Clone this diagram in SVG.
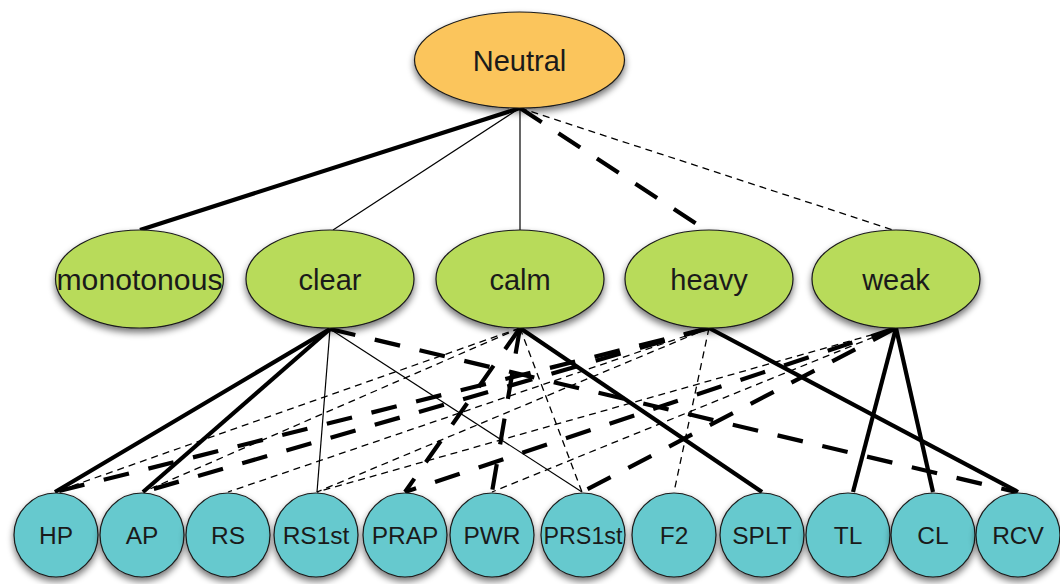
<svg xmlns="http://www.w3.org/2000/svg" width="1060" height="584" viewBox="0 0 1060 584">
  <defs>
    <filter id="sh" x="-20%" y="-20%" width="140%" height="150%">
      <feGaussianBlur in="SourceAlpha" stdDeviation="3.5"/>
      <feOffset dx="0" dy="4" result="b"/>
      <feComponentTransfer><feFuncA type="linear" slope="0.55"/></feComponentTransfer>
      <feMerge><feMergeNode/><feMergeNode in="SourceGraphic"/></feMerge>
    </filter>
  </defs>
  <style>
    .top{fill:#FBC55B;stroke:#1a1a1a;stroke-width:1.2}
    .mid{fill:#B8DB5A;stroke:#1a1a1a;stroke-width:1.2}
    .bot{fill:#66C9CE;stroke:#1a1a1a;stroke-width:1.2}
    text{font-family:"Liberation Sans",Arial,sans-serif;fill:#1a1a1a;text-anchor:middle}
    .tt{font-size:29px}
    .mt{font-size:29px}
    .bt{font-size:24.5px}
    line{stroke:#000;fill:none}
    .ts{stroke-width:4.2}
    .tn{stroke-width:1.2}
    .td{stroke-width:4.2;stroke-dasharray:26 20}
    .nd{stroke-width:1.3;stroke-dasharray:7 5}
  </style>
  <rect width="1060" height="584" fill="#fff"/>
  <g id="connectors">
    <line class="ts" x1="520" y1="108" x2="140" y2="230"/>
    <line class="tn" x1="520" y1="108" x2="333" y2="230"/>
    <line class="tn" x1="520" y1="108" x2="520" y2="230"/>
    <line class="td" x1="520" y1="108" x2="709" y2="232"/>
    <line class="nd" x1="520" y1="108" x2="893" y2="230"/>

    <line class="ts" x1="330" y1="329" x2="55" y2="492"/>
    <line class="ts" x1="330" y1="329" x2="143" y2="492"/>
    <line class="tn" x1="330" y1="329" x2="317" y2="492"/>
    <line class="tn" x1="330" y1="329" x2="582" y2="492"/>
    <line class="td" x1="330" y1="329" x2="1016" y2="492"/>

    <line class="nd" x1="520" y1="328" x2="55" y2="492"/>
    <line class="nd" x1="520" y1="328" x2="143" y2="492"/>
    <line class="td" x1="520" y1="328" x2="405" y2="492"/>
    <line class="td" x1="520" y1="328" x2="492" y2="492"/>
    <line class="nd" x1="520" y1="328" x2="582" y2="492"/>
    <line class="ts" x1="520" y1="328" x2="762" y2="492"/>

    <line class="td" x1="709" y1="328" x2="55" y2="492"/>
    <line class="td" x1="709" y1="328" x2="143" y2="492"/>
    <line class="nd" x1="709" y1="328" x2="228" y2="492"/>
    <line class="nd" x1="709" y1="328" x2="317" y2="492"/>
    <line class="nd" x1="709" y1="328" x2="674" y2="492"/>
    <line class="ts" x1="709" y1="328" x2="1018" y2="492"/>

    <line class="nd" x1="896" y1="328" x2="317" y2="492"/>
    <line class="td" x1="896" y1="328" x2="405" y2="492"/>
    <line class="nd" x1="896" y1="328" x2="492" y2="492"/>
    <line class="td" x1="896" y1="328" x2="582" y2="492"/>
    <line class="ts" x1="896" y1="328" x2="853" y2="492"/>
    <line class="ts" x1="896" y1="328" x2="933" y2="492"/>
  </g>

  <g id="n-neutral"><ellipse class="top" filter="url(#sh)" cx="519.5" cy="60" rx="105" ry="48"/><text class="tt" x="519.5" y="71">Neutral</text></g>

  <g id="n-monotonous"><ellipse class="mid" filter="url(#sh)" cx="139.5" cy="279" rx="84" ry="49"/><text class="mt" x="139.5" y="290" textLength="166" lengthAdjust="spacingAndGlyphs">monotonous</text></g>
  <g id="n-clear"><ellipse class="mid" filter="url(#sh)" cx="330" cy="279" rx="84" ry="49"/><text class="mt" x="330" y="290">clear</text></g>
  <g id="n-calm"><ellipse class="mid" filter="url(#sh)" cx="520" cy="279" rx="84" ry="49"/><text class="mt" x="520" y="290">calm</text></g>
  <g id="n-heavy"><ellipse class="mid" filter="url(#sh)" cx="709" cy="279" rx="84" ry="49"/><text class="mt" x="709" y="290">heavy</text></g>
  <g id="n-weak"><ellipse class="mid" filter="url(#sh)" cx="896" cy="279" rx="84" ry="49"/><text class="mt" x="896" y="290">weak</text></g>

  <g id="n-HP"><circle class="bot" filter="url(#sh)" cx="56" cy="535" r="42"/><text class="bt" x="56" y="544">HP</text></g>
  <g id="n-AP"><circle class="bot" filter="url(#sh)" cx="142" cy="535" r="42"/><text class="bt" x="142" y="544">AP</text></g>
  <g id="n-RS"><circle class="bot" filter="url(#sh)" cx="228" cy="535" r="42"/><text class="bt" x="228" y="544">RS</text></g>
  <g id="n-RS1st"><circle class="bot" filter="url(#sh)" cx="316" cy="535" r="42"/><text class="bt" x="316" y="544">RS1st</text></g>
  <g id="n-PRAP"><circle class="bot" filter="url(#sh)" cx="405" cy="535" r="42"/><text class="bt" x="405" y="544">PRAP</text></g>
  <g id="n-PWR"><circle class="bot" filter="url(#sh)" cx="492" cy="535" r="42"/><text class="bt" x="492" y="544">PWR</text></g>
  <g id="n-PRS1st"><circle class="bot" filter="url(#sh)" cx="583" cy="535" r="42"/><text class="bt" x="583" y="544" textLength="79" lengthAdjust="spacingAndGlyphs">PRS1st</text></g>
  <g id="n-F2"><circle class="bot" filter="url(#sh)" cx="674" cy="535" r="42"/><text class="bt" x="674" y="544">F2</text></g>
  <g id="n-SPLT"><circle class="bot" filter="url(#sh)" cx="762" cy="535" r="42"/><text class="bt" x="762" y="544">SPLT</text></g>
  <g id="n-TL"><circle class="bot" filter="url(#sh)" cx="848" cy="535" r="42"/><text class="bt" x="848" y="544">TL</text></g>
  <g id="n-CL"><circle class="bot" filter="url(#sh)" cx="933" cy="535" r="42"/><text class="bt" x="933" y="544">CL</text></g>
  <g id="n-RCV"><circle class="bot" filter="url(#sh)" cx="1018" cy="535" r="42"/><text class="bt" x="1018" y="544">RCV</text></g>
</svg>
